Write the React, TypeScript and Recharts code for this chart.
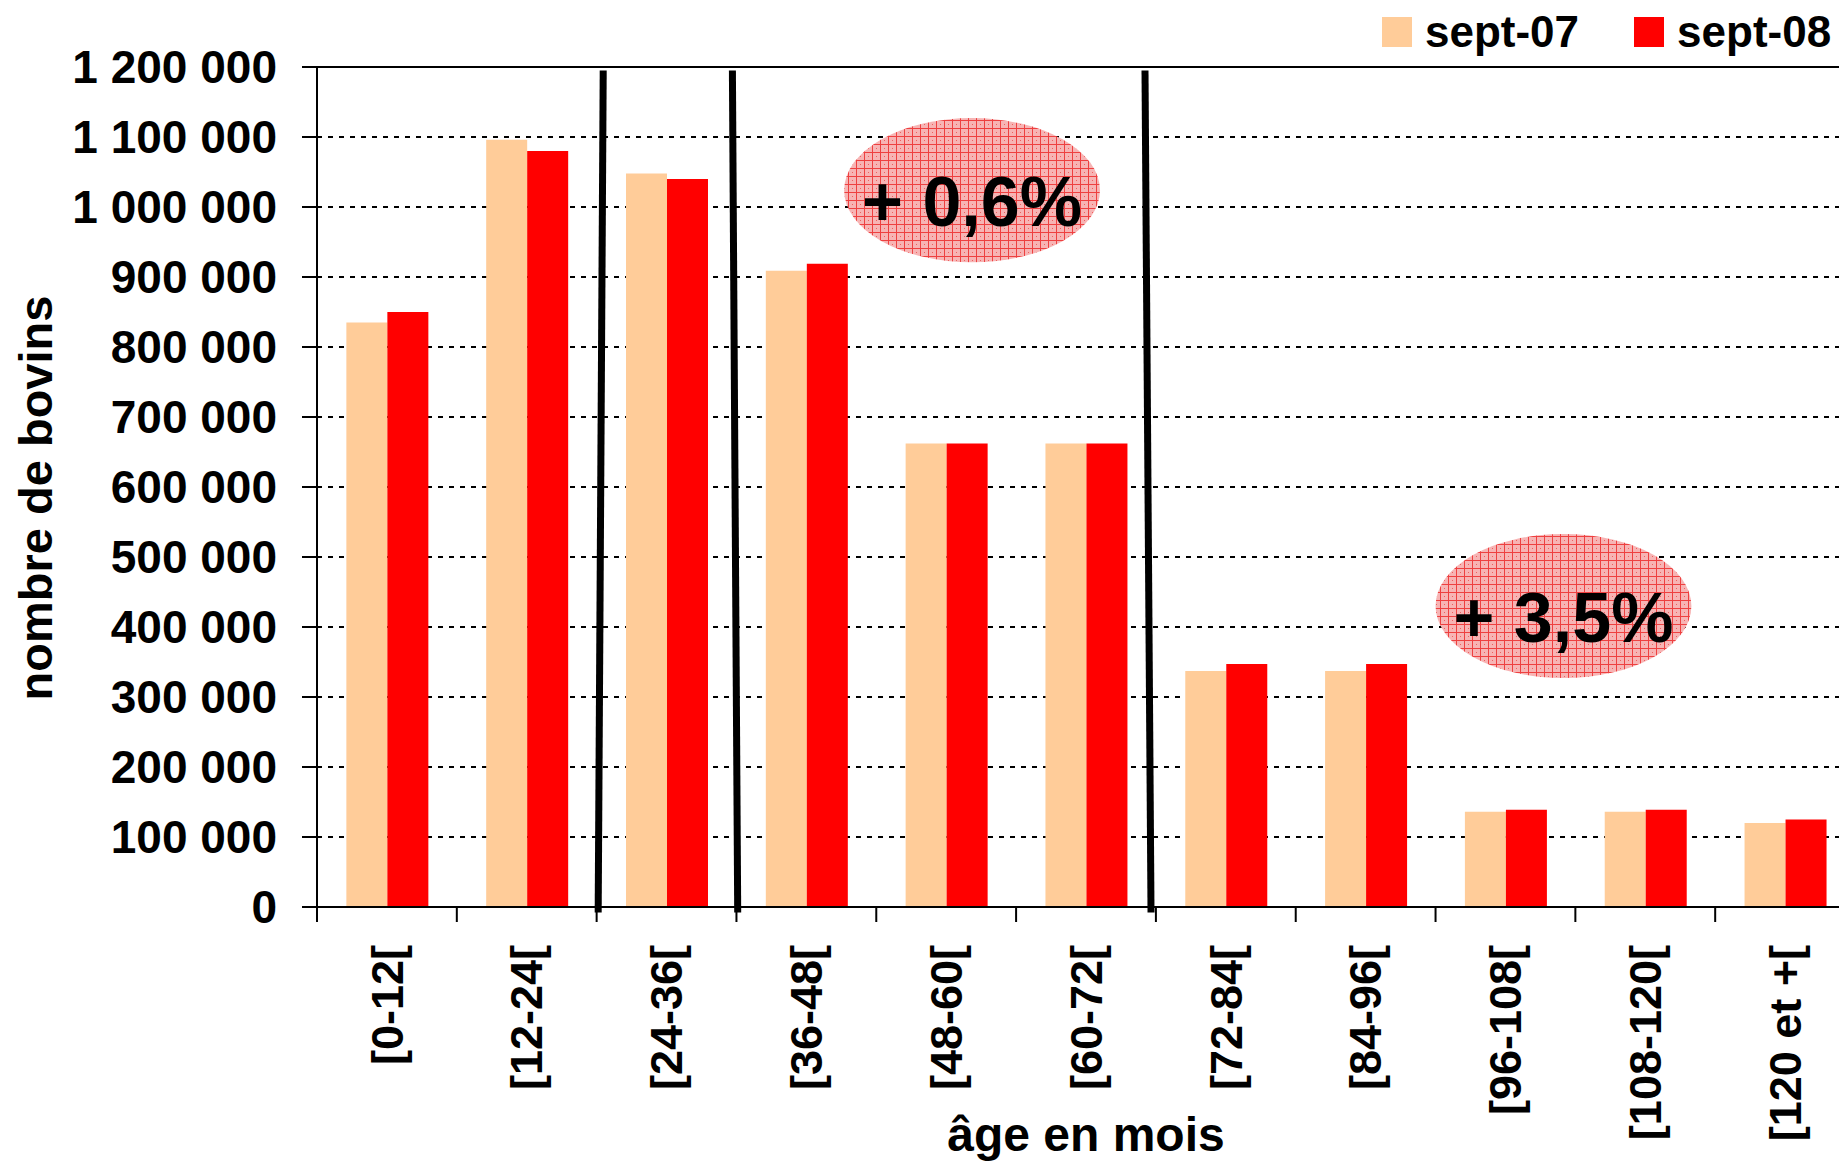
import {
  ComposedChart,
  Bar,
  XAxis,
  YAxis,
  CartesianGrid,
  ReferenceLine,
  ReferenceArea,
  Legend,
  Label,
} from "recharts";

const FONT = "'Liberation Sans', Arial, sans-serif";

// age classes (months)
const AGE_CLASSES = [
  "[0-12[",
  "[12-24[",
  "[24-36[",
  "[36-48[",
  "[48-60[",
  "[60-72[",
  "[72-84[",
  "[84-96[",
  "[96-108[",
  "[108-120[",
  "[120 et +[",
];
// position of each class on the numeric axis (class units)
const CLASS_CENTERS = [0.5, 1.5, 2.5, 3.5, 4.5, 5.5, 6.5, 7.5, 8.5, 9.5, 10.5];

const SEPT_07 = [835000, 1096000, 1048000, 909000, 662000, 662000, 337000, 337000, 136000, 136000, 120000];
const SEPT_08 = [850000, 1080000, 1040000, 919000, 662000, 662000, 347000, 347000, 139000, 139000, 125000];

const SERIES_NAMES = ["sept-07", "sept-08"];
const SERIES_COLORS = ["#FFCC99", "#FF0000"];

const Y_TICKS = [0, 100000, 200000, 300000, 400000, 500000, 600000, 700000, 800000, 900000, 1000000, 1100000, 1200000];
// boundaries (integers) get a tick mark, centres (x.5) get the class label
const X_TICKS = [0, 0.5, 1, 1.5, 2, 2.5, 3, 3.5, 4, 4.5, 5, 5.5, 6, 6.5, 7, 7.5, 8, 8.5, 9, 9.5, 10, 10.5, 11];

// hand-drawn separators, x in class units (top end, bottom end)
const SEPARATOR_TOP_X = [2.047, 2.971, 5.922];
const SEPARATOR_BOTTOM_X = [2.011, 3.009, 5.965];
const SEPARATOR_Y = [1195000, -8000];

// percentage bubbles
const BUBBLE_LABELS = ["+ 0,6%", "+ 3,5%"];
const BUBBLE_X = [
  [3.77, 5.6],
  [8.0, 9.83],
];
const BUBBLE_Y = [
  [921000, 1127000],
  [327000, 533000],
];

const data = AGE_CLASSES.map((age, i) => ({ age, pos: CLASS_CENTERS[i], s07: SEPT_07[i], s08: SEPT_08[i] }));

const fmt = (v: number) => String(v).replace(/\B(?=(\d{3})+(?!\d))/g, " ");

function AgeTick({ x, y, payload }: any) {
  const v = payload.value;
  if (Number.isInteger(v)) {
    return <line x1={x} x2={x} y1={y} y2={y + 15} stroke="#000" strokeWidth={2} />;
  }
  return (
    <g transform={`translate(${x},${y + 38})`}>
      <text
        transform="rotate(-90)"
        textAnchor="end"
        dy="0.35em"
        fill="#000"
        fontFamily={FONT}
        fontWeight={700}
        fontSize={45}
      >
        {AGE_CLASSES[Math.floor(v)]}
      </text>
    </g>
  );
}

const makeBubble = (label: string, idx: number) => (props: any) => {
  const { x, y, width, height } = props;
  const id = `bubble-hatch-${idx}`;
  const cx = x + width / 2;
  const cy = y + height / 2;
  return (
    <g>
      <defs>
        <pattern id={id} width={8} height={8} patternUnits="userSpaceOnUse">
          <rect width={8} height={8} fill="#f7b4b4" />
          <path d="M0 0.5H8M0.5 0V8" stroke="#ee4040" strokeWidth={1} />
          <rect x={4} y={4} width={1} height={1} fill="#ee6060" />
        </pattern>
      </defs>
      <ellipse cx={cx} cy={cy} rx={width / 2} ry={height / 2} fill={`url(#${id})`} />
      <text
        x={cx}
        y={cy + 36}
        textAnchor="middle"
        fill="#000"
        fontFamily={FONT}
        fontWeight={700}
        fontSize={70}
      >
        {label}
      </text>
    </g>
  );
};

function LegendBox() {
  return (
    <div
      style={{
        display: "flex",
        alignItems: "center",
        height: 60,
        paddingTop: 4,
        boxSizing: "border-box",
        fontFamily: FONT,
        fontWeight: 700,
        fontSize: 44,
        color: "#000",
      }}
    >
      {SERIES_NAMES.map((name, i) => (
        <div key={name} style={{ display: "flex", alignItems: "center", marginLeft: i === 0 ? 12 : 55 }}>
          <span style={{ width: 30, height: 30, background: SERIES_COLORS[i], marginRight: 13 }} />
          <span style={{ lineHeight: "normal" }}>{name}</span>
        </div>
      ))}
    </div>
  );
}

function YTitle({ viewBox }: any) {
  const x = viewBox.x + 52;
  const y = viewBox.y + viewBox.height / 2 + 11;
  return (
    <text
      x={x}
      y={y}
      transform={`rotate(-90, ${x}, ${y})`}
      textAnchor="middle"
      fill="#000"
      fontFamily={FONT}
      fontWeight={700}
      fontSize={47}
    >
      nombre de bovins
    </text>
  );
}

export default function App() {
  return (
    <div
      style={{
        position: "fixed",
        left: 0,
        top: 0,
        width: 1839,
        height: 1162,
        overflow: "hidden",
        background: "#fff",
      }}
    >
      <ComposedChart
        width={1870}
        height={1162}
        data={data}
        margin={{ top: 7, right: 15, bottom: 0, left: 0 }}
        barCategoryGap="21%"
        barGap={0}
      >
        <Legend
          verticalAlign="top"
          align="right"
          content={() => <LegendBox />}
          wrapperStyle={{ left: 1370, top: 0, width: 469, height: 60 }}
        />

        {/* bars are placed on the category axis, which stays hidden */}
        <XAxis xAxisId="cat" dataKey="age" hide height={0} />
        {/* visible axis: tick marks on class boundaries, labels at class centres */}
        <XAxis
          xAxisId="num"
          dataKey="pos"
          type="number"
          domain={[0, 11]}
          ticks={X_TICKS}
          interval={0}
          allowDataOverflow
          height={255}
          axisLine={{ stroke: "#000", strokeWidth: 2 }}
          tickLine={false}
          tickSize={0}
          tickMargin={0}
          tick={<AgeTick />}
        >
          <Label
            value="âge en mois"
            position="insideBottom"
            offset={11}
            style={{ fill: "#000", fontFamily: FONT, fontWeight: 700, fontSize: 48 }}
          />
        </XAxis>
        <YAxis
          width={317}
          domain={[0, 1200000]}
          ticks={Y_TICKS}
          interval={0}
          allowDataOverflow
          axisLine={{ stroke: "#000", strokeWidth: 2 }}
          tickLine={{ stroke: "#000", strokeWidth: 2 }}
          tickSize={15}
          tickMargin={25}
          tickFormatter={fmt}
          tick={{ fill: "#000", fontFamily: FONT, fontWeight: 700, fontSize: 46 }}
          label={(p: any) => <YTitle viewBox={p.viewBox} />}
        />

        <CartesianGrid
          xAxisId="cat"
          vertical={false}
          stroke="#000"
          strokeWidth={2}
          strokeDasharray="5 6"
        />
        <ReferenceLine xAxisId="cat" y={1200000} stroke="#000" strokeWidth={2} />

        <Bar xAxisId="cat" dataKey="s07" name={SERIES_NAMES[0]} fill={SERIES_COLORS[0]} isAnimationActive={false} />
        <Bar xAxisId="cat" dataKey="s08" name={SERIES_NAMES[1]} fill={SERIES_COLORS[1]} isAnimationActive={false} />

        {SEPARATOR_TOP_X.map((tx, i) => (
          <ReferenceLine
            key={`sep-${i}`}
            xAxisId="num"
            segment={[
              { x: tx, y: SEPARATOR_Y[0] },
              { x: SEPARATOR_BOTTOM_X[i], y: SEPARATOR_Y[1] },
            ]}
            stroke="#000"
            strokeWidth={7}
            ifOverflow="visible"
          />
        ))}

        {BUBBLE_LABELS.map((label, i) => (
          <ReferenceArea
            key={`bubble-${i}`}
            xAxisId="num"
            x1={BUBBLE_X[i][0]}
            x2={BUBBLE_X[i][1]}
            y1={BUBBLE_Y[i][0]}
            y2={BUBBLE_Y[i][1]}
            ifOverflow="visible"
            shape={makeBubble(label, i)}
          />
        ))}
      </ComposedChart>
    </div>
  );
}
